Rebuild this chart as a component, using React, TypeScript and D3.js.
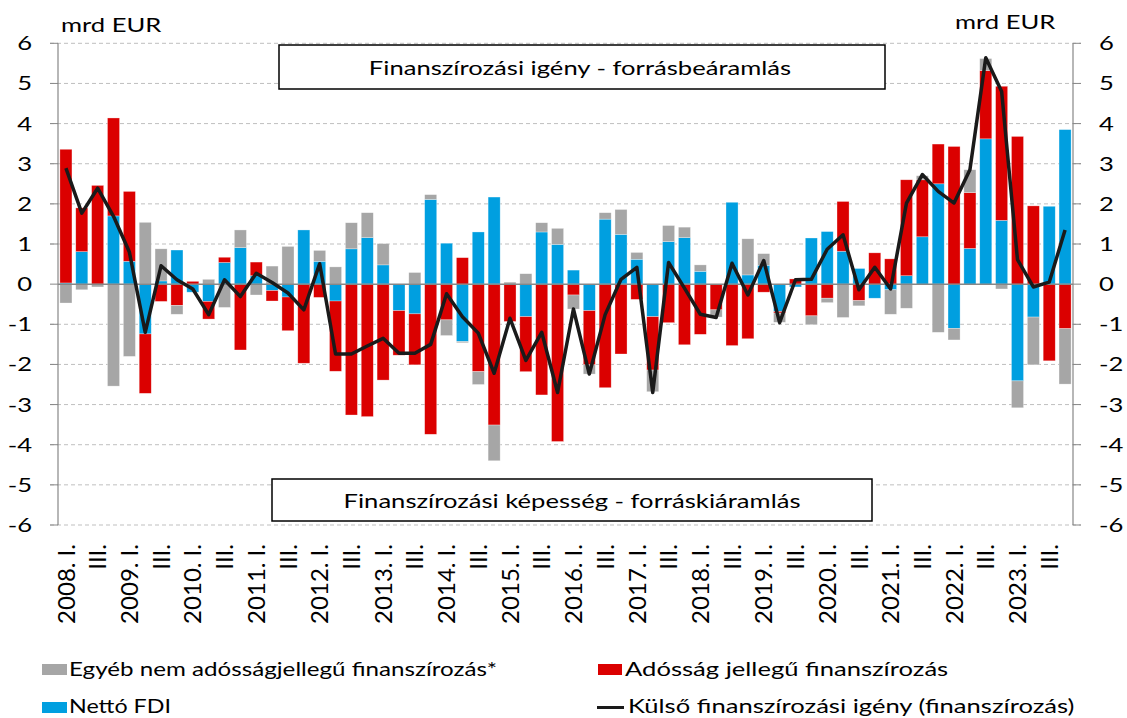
import React from 'react'
import * as d3 from 'd3'

// quarterly data, 2008 Q1 - 2023 Q4 (mrd EUR)
const years = d3.range(2008, 2024)
const quarters = ['I.', 'II.', 'III.', 'IV.']

const fdi = [
  0.03, 0.81, 0, 1.70, 0.57, -1.24, 0.08, 0.85,
  -0.20, -0.43, 0.54, 0.91, 0.21, -0.16, -0.32, 1.35,
  0.57, -0.42, 0.88, 1.16, 0.48, -0.66, -0.74, 2.11,
  1.02, -1.43, 1.30, 2.17, 0, -0.81, 1.30, 0.99,
  0.35, -0.66, 1.62, 1.24, 0.62, -0.81, 1.06, 1.16,
  0.32, 0, 2.04, 0.23, 0.47, -0.68, -0.07, 1.15,
  1.31, 0.82, 0.39, -0.35, -0.14, 0.21, 1.18, 2.50,
  -1.10, 0.89, 3.62, 1.59, -2.41, -0.82, 1.94, 3.85,
]
const debt = [
  3.33, 1.09, 2.46, 2.44, 1.74, -1.48, -0.43, -0.53,
  0.07, -0.44, 0.13, -1.64, 0.34, -0.26, -0.84, -1.97,
  -0.33, -1.75, -3.26, -3.30, -2.39, -1.11, -1.27, -3.74,
  -0.89, 0.66, -2.18, -3.51, -0.93, -1.37, -2.76, -3.92,
  -0.27, -1.35, -2.58, -1.74, -0.38, -1.33, -0.96, -1.51,
  -1.25, -0.64, -1.53, -1.36, -0.20, -0.04, 0.13, -0.79,
  -0.35, 1.24, -0.41, 0.78, 0.63, 2.39, 1.42, 0.99,
  3.43, 1.39, 1.70, 3.34, 3.68, 1.95, -1.91, -1.11,
]
const other = [
  -0.47, -0.14, -0.07, -2.54, -1.80, 1.54, 0.80, -0.22,
  0, 0.12, -0.58, 0.44, -0.27, 0.45, 0.94, 0,
  0.27, 0.43, 0.65, 0.62, 0.53, 0, 0.29, 0.12,
  -0.39, -0.03, -0.32, -0.89, 0.05, 0.26, 0.23, 0.40,
  -0.35, -0.23, 0.16, 0.62, 0.17, -0.54, 0.40, 0.26,
  0.16, -0.18, 0, 0.90, 0.29, -0.23, 0, -0.22,
  -0.11, -0.83, -0.13, 0, -0.61, -0.60, 0.10, -1.20,
  -0.29, 0.57, 0.30, -0.12, -0.67, -1.19, 0, -1.38,
]
const need = [
  2.89, 1.77, 2.39, 1.69, 0.80, -1.20, 0.46, 0.11,
  -0.12, -0.76, 0.11, -0.31, 0.27, 0.04, -0.22, -0.64,
  0.51, -1.74, -1.74, -1.54, -1.35, -1.72, -1.72, -1.50,
  -0.24, -0.81, -1.22, -2.22, -0.85, -1.90, -1.20, -2.70,
  -0.62, -2.24, -0.76, 0.12, 0.42, -2.70, 0.54, -0.10,
  -0.75, -0.83, 0.52, -0.27, 0.59, -0.96, 0.11, 0.12,
  0.87, 1.23, -0.14, 0.42, -0.12, 2.02, 2.73, 2.31,
  2.02, 2.85, 5.64, 4.80, 0.61, -0.07, 0.05, 1.35,
]

const yTicks = d3.range(-6, 7)

const COLORS: Record<string, string> = { fdi: '#009fe0', debt: '#db0000', other: '#a6a6a6' }
const SX = 1.28 // horizontal stretch of the original lettering
const FONT = 'Lato, "Open Sans", sans-serif'

const W = 1127
const H = 718
const left = 58
const right = 1073
const top = 43.3
const bottom = 525

function HText(props: { x: number; y: number; anchor?: string; size?: number; fit?: number; children: React.ReactNode }) {
  const { x, y, anchor = 'start', size = 20, fit, children } = props
  return (
    <text transform={`translate(${x},${y}) scale(${SX},1)`} textAnchor={anchor} fontSize={size} fill="#000"
      textLength={fit ? fit / SX : undefined} lengthAdjust={fit ? 'spacingAndGlyphs' : undefined}>
      {children}
    </text>
  )
}

export default function App() {
  const labels = years.flatMap(y => quarters.map((q, i) => (i === 0 ? `${y}. ${q}` : q)))
  const rows = labels.map((l, i) => ({ i, label: l, fdi: fdi[i], debt: debt[i], other: other[i] }))

  const x = d3.scaleBand<number>().domain(d3.range(rows.length)).range([left, right]).paddingInner(0.24).paddingOuter(0.12)
  const y = d3.scaleLinear().domain([-6, 6]).range([bottom, top])

  const series = d3.stack<any>().keys(['fdi', 'debt', 'other']).offset(d3.stackOffsetDiverging)(rows)

  const line = d3.line<number>().x((_, i) => x(i)! + x.bandwidth() / 2).y(d => y(d))

  return (
    <div style={{ position: 'absolute', left: 0, top: 0 }}>
      <svg width={W} height={H} style={{ display: 'block', fontFamily: FONT }}>
        <rect width={W} height={H} fill="#fff" />
        {/* grid */}
        {yTicks.filter(t => t !== 0).map(t => (
          <line key={t} x1={left - 8} x2={right + 8} y1={y(t)} y2={y(t)} stroke="#bfbfbf" strokeWidth={1} strokeDasharray="4,3" />
        ))}
        {/* boxes */}
        <rect x={279} y={45} width={606} height={44} fill="#fff" stroke="#000" strokeWidth={1.5} />
        <HText x={580} y={75} anchor="middle">Finanszírozási igény - forrásbeáramlás</HText>
        <rect x={272} y={479} width={600} height={42} fill="#fff" stroke="#000" strokeWidth={1.5} />
        <HText x={572} y={508} anchor="middle">Finanszírozási képesség - forráskiáramlás</HText>
        {/* bars */}
        {series.map(s => (
          <g key={s.key} fill={COLORS[s.key]}>
            {s.map((d, i) => (
              <rect key={i} x={x(i)} width={x.bandwidth()} y={y(Math.max(d[0], d[1]))}
                height={Math.abs(y(d[0]) - y(d[1]))} stroke="#fff" strokeOpacity={0.5} strokeWidth={0.6} />
            ))}
          </g>
        ))}
        {/* axes */}
        <line x1={left} x2={right} y1={y(0)} y2={y(0)} stroke="#878787" strokeWidth={1.5} />
        <line x1={left} x2={left} y1={top} y2={bottom} stroke="#878787" strokeWidth={1.2} />
        <line x1={right} x2={right} y1={top} y2={bottom} stroke="#878787" strokeWidth={1.2} />
        {yTicks.map(t => (
          <g key={t}>
            <line x1={left - 8} x2={left} y1={y(t)} y2={y(t)} stroke="#878787" />
            <line x1={right} x2={right + 8} y1={y(t)} y2={y(t)} stroke="#878787" />
            <HText x={32} y={y(t) + 7} anchor="end">{t}</HText>
            <HText x={1099} y={y(t) + 7} anchor="start">{t}</HText>
          </g>
        ))}
        {/* line */}
        <path d={line(need)!} fill="none" stroke="#1a1a1a" strokeWidth={3.5} strokeLinejoin="round" />
        {/* x labels */}
        {rows.map((r, i) => (i % 2 === 0 ? (
          <text key={i} transform={`translate(${x(i)! + x.bandwidth() / 2},544) rotate(-90)`} textAnchor="end"
            dy="0.36em" fontSize={24} fill="#000">{r.label}</text>
        ) : null))}
        {/* units */}
        <HText x={61} y={32}>mrd EUR</HText>
        <HText x={955} y={29}>mrd EUR</HText>
        {/* legend */}
        <rect x={42} y={664} width={25} height={11} fill={COLORS.other} />
        <HText x={69} y={676} fit={428}>Egyéb nem adósságjellegű finanszírozás*</HText>
        <rect x={42} y={702} width={25} height={11} fill={COLORS.fdi} />
        <HText x={69} y={713} fit={102}>Nettó FDI</HText>
        <rect x={598} y={664} width={24} height={11} fill={COLORS.debt} />
        <HText x={625} y={676}>Adósság jellegű finanszírozás</HText>
        <line x1={597} x2={624} y1={707.5} y2={707.5} stroke="#1a1a1a" strokeWidth={3} />
        <HText x={628} y={713}>Külső finanszírozási igény (finanszírozás)</HText>
      </svg>
    </div>
  )
}
